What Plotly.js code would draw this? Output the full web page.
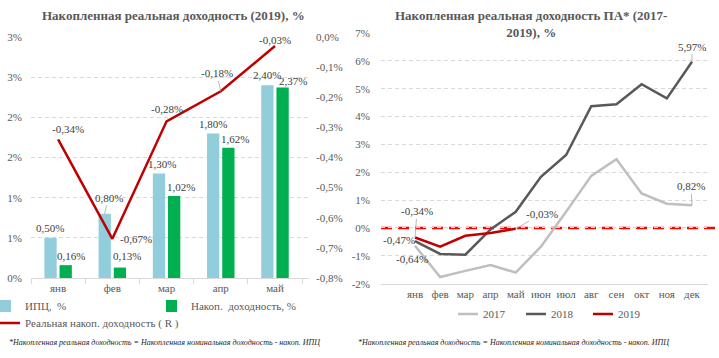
<!DOCTYPE html>
<html><head><meta charset="utf-8">
<script src="https://cdn.plot.ly/plotly-3.0.1.min.js"></script>
<style>html,body{margin:0;padding:0;background:#fff;}#chart{width:719px;height:358px;}</style>
</head><body><div id="chart"></div>
<script>
// ---- data ----
const months5 = ['янв','фев','мар','апр','май'];
const cpi2019 = [0.50, 0.80, 1.30, 1.80, 2.40];
const nominal2019 = [0.16, 0.13, 1.02, 1.62, 2.37];
const real2019 = [-0.34, -0.67, -0.28, -0.18, -0.03];

const months12 = ['янв','фев','мар','апр','май','июн','июл','авг','сен','окт','ноя','дек'];
const real2017 = [-0.64, -1.76, -1.54, -1.33, -1.60, -0.67, 0.58, 1.87, 2.47, 1.24, 0.87, 0.82];
const real2018 = [-0.47, -0.93, -0.96, -0.05, 0.58, 1.84, 2.62, 4.37, 4.44, 5.16, 4.65, 5.97];
const real2019b = [-0.34, -0.67, -0.28, -0.18, -0.03];

const leftTickVals = [0, 0.5, 1, 1.5, 2, 2.5, 3];
const leftTickText = ['0%','1%','1%','2%','2%','3%','3%'];
const rightTickVals = [-0.8,-0.7,-0.6,-0.5,-0.4,-0.3,-0.2,-0.1,0];
const rightTickText = ['-0,8%','-0,7%','-0,6%','-0,5%','-0,4%','-0,3%','-0,2%','-0,1%','0,0%'];
const y3TickVals = [-2,-1,0,1,2,3,4,5,6,7];
const y3TickText = ['-2%','-1%','0%','1%','2%','3%','4%','5%','6%','7%'];

const titleLeft = 'Накопленная реальная доходность (2019), %';
const titleRight = 'Накопленная реальная доходность ПА* (2017-<br>2019), %';
const footnote = '*Накопленная реальная доходность = Накопленная номинальная доходность - накоп. ИПЦ';

// ---- style ----
const W = 719, H = 358;
const FONT = '"Liberation Serif", "Times New Roman", "DejaVu Serif", serif';
const TICK = '#595959', LBL = '#404040', GRID = '#D9D9D9';
const fmt = v => v.toFixed(2).replace('.', ',') + '%';
const px = v => v / W, py = v => 1 - v / H;

const traces = [
  {type:'bar', x: months5, y: cpi2019, name:'ИПЦ,  %', marker:{color:'#92CDDC'}, xaxis:'x', yaxis:'y', legend:'legend'},
  {type:'bar', x: months5, y: nominal2019, name:'Накоп.  доходность, %', marker:{color:'#00B050'}, xaxis:'x', yaxis:'y', legend:'legend2'},
  {type:'scatter', mode:'lines', x: months5, y: real2019, name:'Реальная накоп. доходность ( R )', line:{color:'#C00000', width:2.5}, xaxis:'x', yaxis:'y2', legend:'legend3'},
  {type:'scatter', mode:'lines', x: months12, y: real2017, name:'2017', line:{color:'#BFBFBF', width:2.5}, xaxis:'x2', yaxis:'y3', legend:'legend4'},
  {type:'scatter', mode:'lines', x: months12, y: real2018, name:'2018', line:{color:'#595959', width:2.5}, xaxis:'x2', yaxis:'y3', legend:'legend5'},
  {type:'scatter', mode:'lines', x: months5, y: real2019b, name:'2019', line:{color:'#C00000', width:2.5}, xaxis:'x2', yaxis:'y3', legend:'legend6'}
];

const ann = [];
function lab(x, y, xr, yr, xs, ys, color) {
  ann.push({x, y, xref: xr, yref: yr, text: fmt(y), showarrow:false, xshift: xs, yshift: ys,
    xanchor:'center', yanchor:'middle', font:{family:FONT, size:11, color: color || LBL}});
}
function leader(x, y, xr, yr, xs, ax, ay) {
  ann.push({x, y, xref: xr, yref: yr, text: fmt(y), showarrow:true, arrowhead:0, arrowwidth:0.8,
    arrowcolor:'#A6A6A6', xshift: xs, ax, ay, standoff:0, xanchor:'center', yanchor:'middle',
    font:{family:FONT, size:11, color: LBL}});
}
const cpiShift = [[-8.5,10],[null,null],[-5,10],[-8,9.5],[-8,10]];
cpi2019.forEach((v,i) => { if (i === 1) leader(months5[i], v, 'x', 'y', -7.75, 4, -16); else lab(months5[i], v, 'x', 'y', cpiShift[i][0], cpiShift[i][1]); });
const nomShift = [[13,9],[14.6,11.6],[14,9.3],[14.4,9],[18,6.7]];
nominal2019.forEach((v,i) => lab(months5[i], v, 'x', 'y', nomShift[i][0], nomShift[i][1]));
const realShift = [[10,10],[24,0],[0,12],[null,null],[0,6]];
real2019.forEach((v,i) => { if (i === 3) leader(months5[i], v, 'x', 'y2', 0, -4, -18); else lab(months5[i], v, 'x', 'y2', realShift[i][0], realShift[i][1]); });
leader(months5[0], real2019b[0], 'x2', 'y3', 0, 2, -26);
lab(months12[0], real2018[0], 'x2', 'y3', -16, 1);
lab(months12[0], real2017[0], 'x2', 'y3', -3.5, -13);
leader(months5[4], real2019b[4], 'x2', 'y3', 0, 26, -15);
leader(months12[11], real2018[11], 'x2', 'y3', 0, 0, -15);
leader(months12[11], real2017[11], 'x2', 'y3', 0, -1, -19);
ann.push({text:'<b>'+titleLeft+'</b>', xref:'paper', yref:'paper', x: px(173), y: py(15), showarrow:false, xanchor:'center', yanchor:'middle', font:{family:FONT, size:13, color:TICK}});
ann.push({text:'<b>'+titleRight+'</b>', xref:'paper', yref:'paper', x: px(531), y: py(24), showarrow:false, xanchor:'center', yanchor:'middle', font:{family:FONT, size:13, color:TICK}});
ann.push({text:'<i>'+footnote+'</i>', xref:'paper', yref:'paper', x: px(7), y: py(342), showarrow:false, xanchor:'left', yanchor:'middle', font:{family:FONT, size:8, color:'#262626'}});
ann.push({text:'<i>'+footnote+'</i>', xref:'paper', yref:'paper', x: px(356), y: py(342), showarrow:false, xanchor:'left', yanchor:'middle', font:{family:FONT, size:8, color:'#262626'}});

const legFont = {family:FONT, size:11, color:TICK};
function leg(x, y) { return {x: px(x), y: py(y), xanchor:'left', yanchor:'middle', orientation:'h', font: legFont,
  bgcolor:'rgba(0,0,0,0)', itemwidth:30, indentation:-15}; }

const axisFont = {family:FONT, size:11, color:TICK};
const layout = {
  width: W, height: H, margin:{l:0, r:0, t:0, b:0}, paper_bgcolor:'#fff', plot_bgcolor:'rgba(0,0,0,0)',
  showlegend:true, barmode:'group', bargap:0.44, bargroupgap:0.19,
  font:{family:FONT, color:TICK},
  xaxis:{domain:[px(31), px(309)], anchor:'y', type:'category', showline:true, linecolor:GRID, linewidth:1,
    ticks:'outside', tickson:'boundaries', ticklen:5, tickcolor:GRID, tickfont:axisFont, showgrid:false},
  yaxis:{domain:[py(278), py(37)], anchor:'x', range:[0,3], tickvals:leftTickVals, ticktext:leftTickText,
    tickfont:axisFont, showgrid:true, gridcolor:GRID, griddash:'4px,3px', zeroline:false, showline:false, ticklabelstandoff:8},
  yaxis2:{overlaying:'y', side:'right', anchor:'x', range:[-0.8,0], tickvals:rightTickVals, ticktext:rightTickText,
    tickfont:axisFont, showgrid:false, zeroline:false, showline:false, ticklabelstandoff:6},
  xaxis2:{domain:[px(381), px(708)], anchor:'y3', type:'category', categoryarray: months12, categoryorder:'array',
    showline:true, linecolor:GRID, linewidth:1.5, ticks:'', tickfont:axisFont, showgrid:false},
  yaxis3:{domain:[py(283.7), py(33)], anchor:'x2', range:[-2,7], tickvals:y3TickVals, ticktext:y3TickText,
    tickfont:axisFont, showgrid:true, gridcolor:GRID, griddash:'4px,3px', zeroline:false, showline:false, ticklabelstandoff:10},
  legend: leg(0, 306), legend2: leg(166, 306), legend3: leg(0, 323),
  legend4: leg(458, 314), legend5: leg(526, 314), legend6: leg(593, 314),
  shapes:[{type:'line', xref:'x2 domain', yref:'y3', x0:0, x1:(W-381)/(708-381), y0:0, y1:0,
    line:{color:'#FF0000', width:2.5, dash:'11px,6px'}, layer:'below'}],
  annotations: ann
};
Plotly.newPlot('chart', traces, layout, {staticPlot:true, displayModeBar:false});
</script></body></html>
